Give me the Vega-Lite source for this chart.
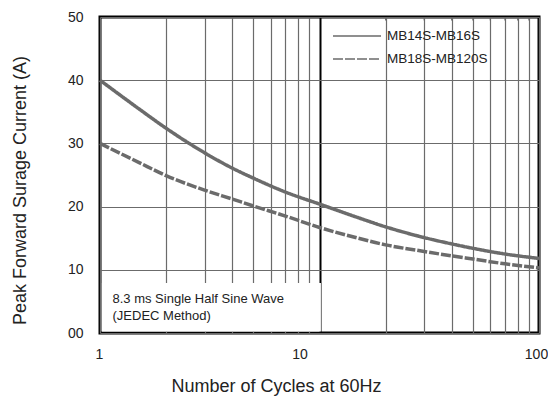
{
  "$schema": "https://vega.github.io/schema/vega-lite/v6.json",
  "width": 439,
  "height": 316,
  "autosize": "none",
  "padding": {"left": 100, "top": 17, "right": 9, "bottom": 63},
  "background": "white",
  "config": {
    "view": {"stroke": "#000", "strokeWidth": 3},
    "font": "Liberation Sans"
  },
  "datasets": {
    "curves": [
      {"N": 1, "A": 40.0, "s": "MB14S-MB16S"},
      {"N": 1.5, "A": 35.5, "s": "MB14S-MB16S"},
      {"N": 2, "A": 32.4, "s": "MB14S-MB16S"},
      {"N": 3, "A": 28.5, "s": "MB14S-MB16S"},
      {"N": 4, "A": 26.1, "s": "MB14S-MB16S"},
      {"N": 5, "A": 24.5, "s": "MB14S-MB16S"},
      {"N": 7, "A": 22.3, "s": "MB14S-MB16S"},
      {"N": 10, "A": 20.4, "s": "MB14S-MB16S"},
      {"N": 15, "A": 18.25, "s": "MB14S-MB16S"},
      {"N": 20, "A": 16.8, "s": "MB14S-MB16S"},
      {"N": 30, "A": 15.1, "s": "MB14S-MB16S"},
      {"N": 40, "A": 14.1, "s": "MB14S-MB16S"},
      {"N": 50, "A": 13.4, "s": "MB14S-MB16S"},
      {"N": 70, "A": 12.5, "s": "MB14S-MB16S"},
      {"N": 100, "A": 11.8, "s": "MB14S-MB16S"},
      {"N": 1, "A": 30.0, "s": "MB18S-MB120S"},
      {"N": 1.5, "A": 27.0, "s": "MB18S-MB120S"},
      {"N": 2, "A": 24.9, "s": "MB18S-MB120S"},
      {"N": 3, "A": 22.6, "s": "MB18S-MB120S"},
      {"N": 4, "A": 21.2, "s": "MB18S-MB120S"},
      {"N": 5, "A": 20.1, "s": "MB18S-MB120S"},
      {"N": 7, "A": 18.5, "s": "MB18S-MB120S"},
      {"N": 10, "A": 16.7, "s": "MB18S-MB120S"},
      {"N": 15, "A": 15.0, "s": "MB18S-MB120S"},
      {"N": 20, "A": 13.95, "s": "MB18S-MB120S"},
      {"N": 30, "A": 12.9, "s": "MB18S-MB120S"},
      {"N": 40, "A": 12.2, "s": "MB18S-MB120S"},
      {"N": 50, "A": 11.7, "s": "MB18S-MB120S"},
      {"N": 70, "A": 10.95, "s": "MB18S-MB120S"},
      {"N": 100, "A": 10.3, "s": "MB18S-MB120S"}
    ],
    "topticks": [
      {"t": 20}, {"t": 30}, {"t": 40}, {"t": 50}, {"t": 60}, {"t": 70}, {"t": 80}, {"t": 90}
    ],
    "note": [
      {"label": "8.3 ms Single Half Sine Wave\n(JEDEC Method)"}
    ]
  },
  "layer": [
    {
      "data": {"name": "note"},
      "mark": {"type": "rect", "fill": "white", "strokeWidth": 0},
      "encoding": {
        "x": {"datum": 1.02, "type": "quantitative", "scale": {"type": "log", "domain": [1, 100], "nice": false}},
        "x2": {"datum": 10.15},
        "y": {"datum": 0.25, "type": "quantitative", "scale": {"type": "linear", "domain": [0, 50], "nice": false}},
        "y2": {"datum": 7.9}
      }
    },
    {
      "mark": {"type": "rect", "fill": "white", "strokeWidth": 0},
      "encoding": {
        "x": {"datum": 10.2, "type": "quantitative", "scale": {"type": "log", "domain": [1, 100], "nice": false}},
        "x2": {"datum": 98},
        "y": {"datum": 40.55, "type": "quantitative", "scale": {"type": "linear", "domain": [0, 50], "nice": false}},
        "y2": {"datum": 49.75}
      }
    },
    {
      "data": {"name": "topticks"},
      "mark": {"type": "rule", "stroke": "#6b6b6b", "strokeWidth": 1.2},
      "encoding": {
        "x": {"field": "t", "type": "quantitative", "scale": {"type": "log", "domain": [1, 100], "nice": false}},
        "y": {"datum": 50, "type": "quantitative", "scale": {"type": "linear", "domain": [0, 50], "nice": false}},
        "y2": {"datum": 49.45}
      }
    },
    {
      "data": {"name": "curves"},
      "mark": {"type": "line", "stroke": "#6b6b6b", "strokeWidth": 3.5, "interpolate": "monotone"},
      "encoding": {
        "x": {
          "field": "N",
          "type": "quantitative",
          "scale": {"type": "log", "domain": [1, 100], "nice": false},
          "axis": {
            "title": "Number of Cycles at 60Hz",
            "values": [1, 2, 3, 4, 5, 6, 7, 8, 9, 10, 20, 30, 40, 50, 60, 70, 80, 90, 100],
            "grid": true,
            "gridColor": {"condition": {"test": "datum.value == 10", "value": "#000000"}, "value": "#6b6b6b"},
            "gridWidth": {"condition": {"test": "datum.value == 10", "value": 2}, "value": 1.2},
            "ticks": false,
            "tickSize": 0,
            "domain": false,
            "labelExpr": "datum.value == 1 ? '1' : datum.value == 10 ? '10' : datum.value == 100 ? '100' : ''",
            "labelOverlap": false,
            "labelFlush": false,
            "labelBound": false,
            "labelOffset": {"condition": [{"test": "datum.value == 10", "value": -20}, {"test": "datum.value == 100", "value": -3}], "value": -1},
            "labelFontSize": 14,
            "labelColor": "#222222",
            "labelPadding": 14,
            "titleFontSize": 18,
            "titleFontWeight": "normal",
            "titleColor": "#222222",
            "titleX": 176,
            "titleY": 58,
            "titleBaseline": "alphabetic"
          }
        },
        "y": {
          "field": "A",
          "type": "quantitative",
          "scale": {"type": "linear", "domain": [0, 50], "nice": false},
          "axis": {
            "title": "Peak Forward Surage Current (A)",
            "values": [0, 10, 20, 30, 40, 50],
            "grid": true,
            "gridColor": "#6b6b6b",
            "gridWidth": 1.2,
            "ticks": false,
            "tickSize": 0,
            "domain": false,
            "labelExpr": "datum.value == 0 ? '00' : datum.label",
            "labelFontSize": 14,
            "labelColor": "#222222",
            "labelPadding": 17,
            "labelFlush": false,
            "titleFontSize": 18,
            "titleFontWeight": "normal",
            "titleColor": "#222222",
            "titleLimit": 400,
            "titleX": -75,
            "titleY": 173,
            "titleBaseline": "alphabetic"
          }
        },
        "strokeDash": {
          "field": "s",
          "type": "nominal",
          "scale": {"domain": ["MB14S-MB16S", "MB18S-MB120S"], "range": [[1, 0], [10, 2]]},
          "legend": {
            "title": null,
            "orient": "none",
            "legendX": 232,
            "legendY": 9,
            "padding": 0,
            "symbolType": "stroke",
            "symbolSize": 2304,
            "symbolStrokeWidth": 1.5,
            "symbolStrokeColor": "#6b6b6b",
            "clipHeight": 20,
            "rowPadding": 3,
            "labelOffset": 5,
            "labelFontSize": 13.5,
            "labelColor": "#222222",
            "labelLimit": 200,
            "encode": {
              "symbols": {"update": {"strokeDash": {"signal": "datum.value === 'MB18S-MB120S' ? [4, 1.6] : [1, 0]"}}}
            }
          }
        }
      }
    },
    {
      "data": {"name": "note"},
      "mark": {"type": "text", "lineBreak": "\n", "lineHeight": 17, "align": "left", "baseline": "top", "fontSize": 13, "fill": "#222222"},
      "encoding": {
        "text": {"field": "label", "type": "nominal"},
        "x": {"datum": 1.14, "type": "quantitative", "scale": {"type": "log", "domain": [1, 100], "nice": false}},
        "y": {"datum": 6.4, "type": "quantitative", "scale": {"type": "linear", "domain": [0, 50], "nice": false}}
      }
    }
  ]
}
